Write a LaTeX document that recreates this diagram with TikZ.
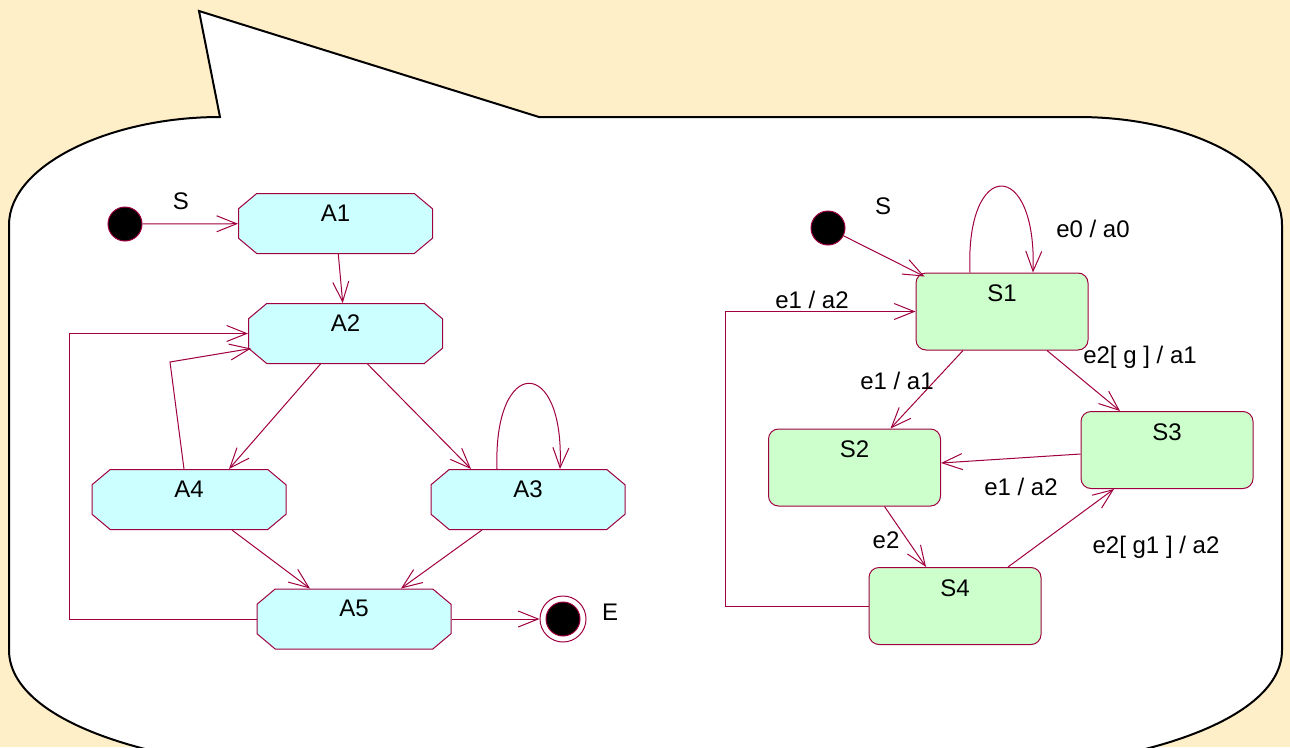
\documentclass[tikz,border=0pt]{standalone}
\usepackage{fontspec}
\setmainfont{Liberation Sans}
\usetikzlibrary{arrows.meta}
\usetikzlibrary{shapes.misc, calc}

\definecolor{paper}{RGB}{255,239,200}
\definecolor{trline}{RGB}{160,0,64}
\definecolor{actfill}{RGB}{204,255,255}
\definecolor{stfill}{RGB}{204,255,204}

\tikzset{
  actstate/.style={chamfered rectangle, chamfered rectangle xsep=14pt, chamfered rectangle angle=50,
    draw=trline, line width=1pt, fill=actfill,
    minimum width=194pt, minimum height=60pt, inner sep=0pt, text height=17pt, text depth=22pt,
    font=\fontsize{24}{28}\selectfont},
  ststate/.style={rectangle, rounded corners=10pt, draw=trline, line width=1pt, fill=stfill,
    minimum width=172pt, minimum height=77pt, inner sep=0pt, text height=17pt, text depth=37pt,
    font=\fontsize{24}{28}\selectfont},
  initdot/.style={circle, fill=black, draw=trline, line width=1pt, minimum size=34pt, inner sep=0pt},
  enddot/.style={circle, fill=white, draw=trline, line width=1pt, minimum size=46pt, inner sep=0pt,
    path picture={\filldraw[fill=black, draw=trline] (path picture bounding box.center) circle (17pt);}},
  trans/.style={draw=trline, line width=1pt, ->},
  lbl/.style={font=\fontsize{24}{28}\selectfont, inner sep=0pt},
}

\begin{document}
\begin{tikzpicture}[x=1pt,y=-1pt,>={Straight Barb[length=20pt,width=16pt]}]

\useasboundingbox (0,0) rectangle (1290,747);
\fill[paper] (0,0) rectangle (1290,747);

% speech bubble
\begin{scope}
\clip (0,0) rectangle (1290,747);
\filldraw[fill=white, draw=black, line width=2pt]
  (199,11) -- (220,117) .. controls (110,117) and (9,165) .. (9,225)
  -- (9,650) .. controls (9,720) and (150,768) .. (330,772)
  -- (960,772) .. controls (1140,768) and (1282,720) .. (1282,650)
  -- (1282,225) .. controls (1282,165) and (1190,117) .. (1078,117)
  -- (539,117) -- cycle;
\end{scope}

% activity diagram
\node[initdot] (init1) at (125,224) {};
\node[lbl] (s1lbl) at (181,201) {S};
\node[actstate] (A1) at (335.5,223.5) {A1};
\node[actstate] (A2) at (345.5,333.5) {A2};
\node[actstate] (A4) at (189,499.5) {A4};
\node[actstate] (A3) at (528,499.5) {A3};
\node[actstate] (A5) at (354,619) {A5};
\node[enddot] (E) at (563,619) {};
\node[lbl] (elbl) at (610,612) {E};

\coordinate (backL) at (69,0);
\coordinate (backA4) at (170,362);

\draw[trans] (init1) -- (A1);
\draw[trans] (A1) -- (A2);
\draw[trans] ($(A2.south)+(-25,0)$) -- ($(A4.north)+(40,0)$);
\draw[trans] ($(A2.south)+(22,0)$) -- ($(A3.north)+(-57,0)$);
\draw[trans] ($(A3.north)+(-31,0)$) .. controls +(-4,-114) and +(5,-114) .. ($(A3.north)+(32,0)$);
\draw[trans] ($(A4.south)+(43,0)$) -- ($(A5.north)+(-44,0)$);
\draw[trans] ($(A3.south)+(-46,0)$) -- ($(A5.north)+(47,0)$);
\draw[trans] (A5.east) -- (E.west);
\draw[trans] (A5.west) -- (A5.west -| backL) -- (A2.west -| backL) -- (A2.west);
\draw[trans] ($(A4.north)+(-5,0)$) -- (backA4) -- ($(A2.west)+(3,15)$);

% state diagram
\node[initdot] (init2) at (828,228) {};
\node[lbl] (s2lbl) at (883,206) {S};
\node[ststate] (S1) at (1002,311.5) {S1};
\node[ststate] (S2) at (854.5,467.5) {S2};
\node[ststate] (S3) at (1167,450) {S3};
\node[ststate] (S4) at (955,606) {S4};

\coordinate (backR) at (725,0);

\draw[trans] (init2) -- ($(S1.north west)+(9,4)$);
\draw[trans] ($(S1.north)+(-32,0)$) .. controls +(-5,-115) and +(4,-115) .. ($(S1.north)+(31,0)$);
\draw[trans] (S4.west) -- (S4.west -| backR) -- (S1.west -| backR) -- (S1.west);
\draw[trans] ($(S1.south)+(-39,0)$) -- ($(S2.north)+(36,0)$);
\draw[trans] ($(S1.south)+(45,0)$) -- ($(S3.north)+(-47,0)$);
\draw[trans] ($(S3.west)+(0,4)$) -- ($(S2.east)+(0,-4.5)$);
\draw[trans] ($(S2.south)+(30,0)$) -- ($(S4.north)+(-29,0)$);
\draw[trans] ($(S4.north)+(53,0)$) -- ($(S3.south)+(-53,0)$);

\node[lbl] (l0) at (1093,229) {e0 / a0};
\node[lbl] (l1) at (812,300) {e1 / a2};
\node[lbl] (l2) at (897,381) {e1 / a1};
\node[lbl] (l3) at (1140,357) {e2[ g ] / a1};
\node[lbl] (l4) at (1021,487) {e1 / a2};
\node[lbl] (l5) at (886,540) {e2};
\node[lbl] (l6) at (1156,547) {e2[ g1 ] / a2};

\end{tikzpicture}
\end{document}
